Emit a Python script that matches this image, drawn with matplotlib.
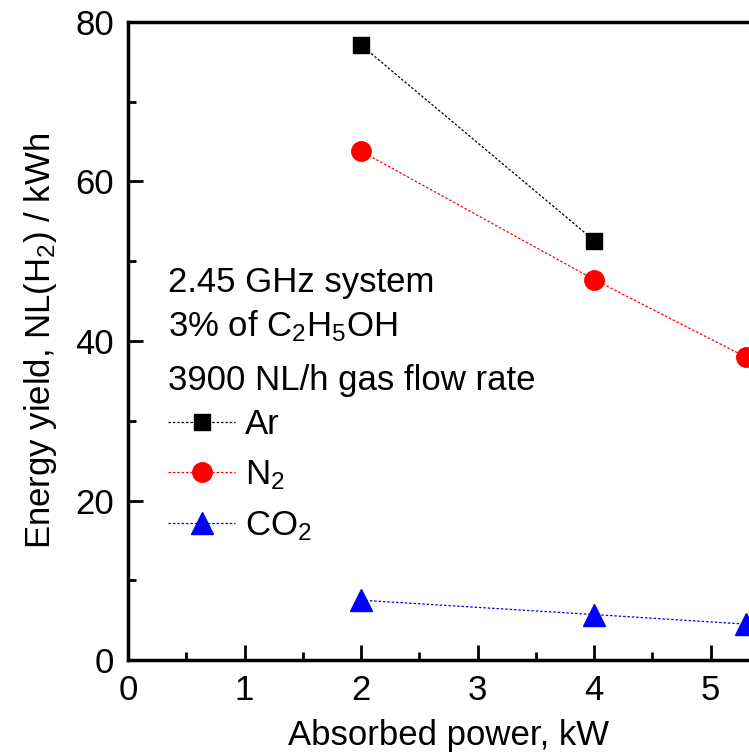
import numpy as np
import matplotlib
matplotlib.use("Agg")
from matplotlib import pyplot as plt
from matplotlib.ticker import MultipleLocator

plt.rcParams['font.family'] = ['Liberation Sans', 'DejaVu Sans']
plt.rcParams['mathtext.fontset'] = 'custom'
plt.rcParams['mathtext.rm'] = 'Liberation Sans'
plt.rcParams['mathtext.it'] = 'Liberation Sans'

# data
power_ar = [2, 4]
yield_ar = [77.1, 52.6]
power_n2 = [2, 4, 5.3]
yield_n2 = [63.8, 47.7, 38.0]
power_co2 = [2, 4, 5.3]
yield_co2 = [7.5, 5.7, 4.5]

W, H = 749, 756
fs = 25
fig = plt.figure(figsize=(W / 100, H / 100), dpi=100)
# axes runs past the right edge of the picture, like the cropped original
ax = fig.add_axes([128 / W, 1 - 660 / H, 641 / W, 638 / H])

ls = (0, (2, 1.5))
ax.plot(power_ar, yield_ar, ls=ls, lw=0.9, color='black', marker='s', ms=12,
        mec='black', mfc='black', label='Ar')
ax.plot(power_n2, yield_n2, ls=ls, lw=0.9, color='red', marker='o', ms=14,
        mec='red', mfc='red', label='N$_2$')
ax.plot(power_co2, yield_co2, ls=ls, lw=0.9, color='blue', marker='^', ms=15.5,
        mec='blue', mfc='blue', label='CO$_2$')

ax.set_xlim(0, 5.5)
ax.set_ylim(0, 80)
ax.xaxis.set_major_locator(MultipleLocator(1))
ax.xaxis.set_minor_locator(MultipleLocator(0.5))
ax.yaxis.set_major_locator(MultipleLocator(20))
ax.yaxis.set_minor_locator(MultipleLocator(10))
ax.tick_params(which='both', direction='in', width=2, labelsize=fs,
               top=False, right=False)
ax.tick_params(which='major', length=11, pad=10)
ax.tick_params(which='minor', length=6)
for s in ax.spines.values():
    s.set_linewidth(2.5)

ax.set_xlabel('Absorbed power, kW', fontsize=fs, labelpad=9)
ax.set_ylabel('Energy yield, NL(H$_2$) / kWh', fontsize=fs, labelpad=12)

fig.text(168 / W, 1 - 292 / H, '2.45 GHz system', fontsize=fs, va='baseline')
fig.text(168 / W, 1 - 336 / H, '3% of C$_2$H$_5$OH', fontsize=fs, va='baseline')
fig.text(168 / W, 1 - 390 / H, '3900 NL/h gas flow rate', fontsize=fs, va='baseline')

ax.legend(loc='upper left', bbox_to_anchor=(168 / W, 1 - 408 / H),
          bbox_transform=fig.transFigure, frameon=False, fontsize=fs,
          handlelength=1.93, handletextpad=0.3, labelspacing=0.5,
          borderpad=0, borderaxespad=0)

fig.savefig('out.png', dpi=100)
